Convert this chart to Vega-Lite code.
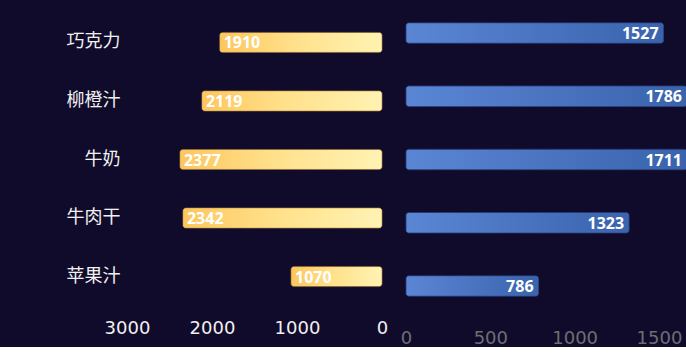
{
  "$schema": "https://vega.github.io/schema/vega-lite/v6.json",
  "background": "#100b2b",
  "padding": 0,
  "autosize": {"type": "pad"},
  "spacing": 24,
  "bounds": "flush",
  "config": {"view": {"stroke": null}, "font": "DejaVu Sans"},
  "data": {"values": [
    {"name": "巧克力", "left": 1910, "right": 1527},
    {"name": "柳橙汁", "left": 2119, "right": 1786},
    {"name": "牛奶", "left": 2377, "right": 1711},
    {"name": "牛肉干", "left": 2342, "right": 1323},
    {"name": "苹果汁", "left": 1070, "right": 786}
  ]},
  "hconcat": [
    {
      "width": 255,
      "height": 319,
      "encoding": {
        "y": {"field": "name", "type": "nominal", "sort": null,
          "scale": {"paddingInner": 0.659, "paddingOuter": 0.554},
          "axis": {"title": null, "ticks": false, "domain": false, "labelPadding": 7, "labelFontSize": 18, "labelColor": "#f0f0f0", "labelFont": "Noto Sans CJK SC", "minExtent": 127, "maxExtent": 127}},
        "x": {"field": "left", "type": "quantitative",
          "scale": {"domain": [0, 3000], "reverse": true, "nice": false},
          "axis": {"title": null, "ticks": false, "domain": false, "grid": false, "values": [0, 1000, 2000, 3000], "format": "d", "labelFlush": false, "labelFontSize": 18, "labelColor": "#f0f0f0", "labelPadding": 0, "labelFont": "DejaVu Sans"}}
      },
      "layer": [
        {"mark": {"type": "bar", "cornerRadius": 3, "stroke": "#d9a84a", "strokeOpacity": 0.5, "strokeWidth": 1,
          "fill": {"gradient": "linear", "x1": 0, "y1": 0, "x2": 1, "y2": 0, "stops": [{"offset": 0, "color": "#fdc65e"}, {"offset": 0.45, "color": "#ffe08a"}, {"offset": 1, "color": "#fff3b3"}]}}},
        {"mark": {"type": "text", "align": "left", "baseline": "middle", "dx": 4, "dy": 1, "fontSize": 16, "fontWeight": "bold", "font": "Noto Sans", "color": "#ffffff"},
          "encoding": {"text": {"field": "left"}}}
      ]
    },
    {
      "width": 281,
      "height": 319,
      "encoding": {
        "y": {"field": "name", "type": "nominal", "sort": null,
          "scale": {"paddingInner": 0.676, "paddingOuter": 0.36},
          "axis": null},
        "x": {"field": "right", "type": "quantitative",
          "scale": {"domain": [0, 1666], "nice": false, "clamp": true},
          "axis": {"title": null, "ticks": false, "domain": false, "grid": false, "values": [0, 500, 1000, 1500], "format": "d", "labelFlush": false, "labelFontSize": 18, "labelColor": "#6e6e72", "labelPadding": 10, "labelFont": "DejaVu Sans"}}
      },
      "layer": [
        {"mark": {"type": "bar", "cornerRadius": 3, "stroke": "#2e4f93", "strokeOpacity": 0.6, "strokeWidth": 1,
          "fill": {"gradient": "linear", "x1": 0, "y1": 0, "x2": 1, "y2": 0, "stops": [{"offset": 0, "color": "#5b86d4"}, {"offset": 1, "color": "#3a63ad"}]}}},
        {"mark": {"type": "text", "align": "right", "baseline": "middle", "dx": -5, "dy": 1, "fontSize": 16, "fontWeight": "bold", "font": "Noto Sans", "color": "#ffffff"},
          "encoding": {"text": {"field": "right"}}}
      ]
    }
  ]
}
